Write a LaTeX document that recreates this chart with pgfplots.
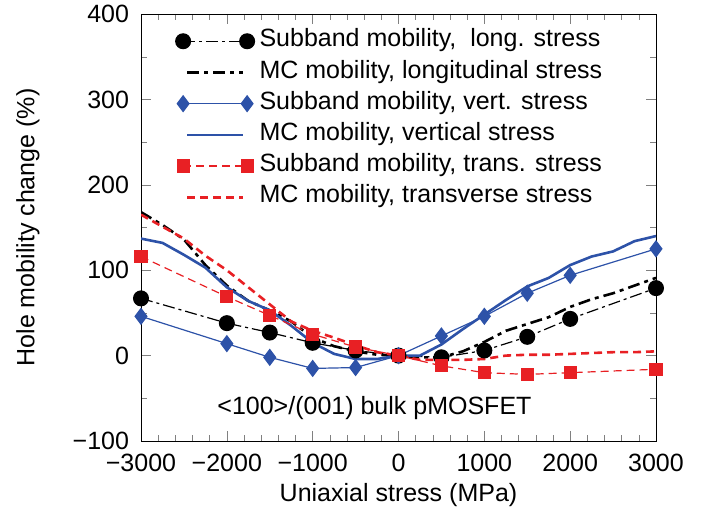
\documentclass[border=0pt]{standalone}
\usepackage{fontspec}
\setmainfont{Liberation Sans}
\usepackage{pgfplots}
\pgfplotsset{compat=1.18}
\definecolor{myblue}{RGB}{45,82,168}
\definecolor{myred}{RGB}{232,32,36}
\pgfplotsset{
 markleg/.style={legend image code/.code={\draw[mark repeat=2,mark phase=1,##1] plot coordinates {(0pt,0pt) (16pt,0pt) (32pt,0pt)};}},
 lineleg/.style={legend image code/.code={\draw[##1] (2pt,0pt) -- (30pt,0pt);}},
}
\begin{document}
\begin{tikzpicture}
\begin{axis}[
 scale only axis, width=257.5pt, height=213.5pt,
 xmin=-3000, xmax=3000, ymin=-100, ymax=400,
 xtick={-3000,-2000,...,3000},
 xticklabels={−3000,−2000,−1000,0,1000,2000,3000},
 ytick={-100,0,...,400},
 yticklabels={−100,0,100,200,300,400},
 minor x tick num=4, minor y tick num=1,
 tick align=inside,
 major tick length=5pt, minor tick length=3pt,
 font=\fontsize{12.5}{15}\selectfont,
 tick label style={font=\fontsize{12.5}{15}\selectfont, inner sep=0pt},
 yticklabel style={xshift=-5.8pt},
 xticklabel style={yshift=-6.2pt},
 xlabel={Uniaxial stress (MPa)},
 ylabel={Hole mobility change (\%)},
 every axis x label/.style={at={(axis description cs:0.5,0)}, yshift=-27pt, anchor=center},
 every axis y label/.style={at={(axis description cs:0,0.5)}, xshift=-56.5pt, rotate=90, anchor=center},
 legend cell align=left,
 legend style={draw=none, fill=none, at={(rel axis cs:0.055,0.983)}, anchor=north west,
   font=\fontsize{12.5}{15}\selectfont, row sep=0pt,
   nodes={text height=8.6pt, text depth=3pt, inner xsep=2.5pt}},
]
% Subband long
\addplot[black, line width=0.6pt, dash pattern=on 6pt off 2pt on 1.5pt off 2pt,
  mark=*, mark size=3.7pt, mark options={solid}, markleg] coordinates {
 (-3000,67) (-2000,38) (-1500,27) (-1000,15) (-500,6) (0,0) (500,-2) (1000,6) (1500,22) (2000,43) (3000,79)};
\addlegendentry{Subband mobility,\ \ long. stress}
% MC long
\addplot[black, line width=1.3pt, dash pattern=on 6pt off 2.5pt on 2pt off 2.5pt, lineleg] coordinates {
 (-3000,168) (-2750,153) (-2500,136) (-2250,106) (-2000,82) (-1750,64) (-1500,53) (-1250,40) (-1000,21) (-750,11) (-500,5) (-250,1) (0,0)
 (250,-2) (500,-2) (750,5) (1000,16) (1250,29) (1500,37) (1750,45) (2000,57) (2250,66) (2500,73) (2750,82) (3000,91)};
\addlegendentry{MC mobility, longitudinal stress}
% Subband vert
\addplot[myblue, line width=0.6pt, mark=diamond*, mark size=3.9pt, markleg] coordinates {
 (-3000,46) (-2000,14) (-1500,-2) (-1000,-15) (-500,-14) (0,0) (500,23) (1000,46) (1500,73) (2000,94) (3000,125)};
\addlegendentry{Subband mobility, vert. stress}
% MC vert
\addplot[myblue, line width=1.3pt, lineleg] coordinates {
 (-3000,137) (-2750,132) (-2500,118) (-2250,103) (-2000,80) (-1750,64) (-1500,53) (-1250,35) (-1000,15) (-750,2) (-500,-4) (-250,-4) (0,0)
 (250,0) (500,13) (750,31) (1000,48) (1250,65) (1500,81) (1750,91) (2000,106) (2250,116) (2500,122) (2750,134) (3000,140)};
\addlegendentry{MC mobility, vertical stress}
% Subband trans
\addplot[myred, line width=0.6pt, dash pattern=on 4pt off 2.5pt, mark=square*, mark size=3pt, mark options={solid}, markleg] coordinates {
 (-3000,116) (-2000,69) (-1500,47) (-1000,25) (-500,10) (0,0) (500,-12) (1000,-20) (1500,-22) (2000,-20) (3000,-16)};
\addlegendentry{Subband mobility, trans. stress}
% MC trans
\addplot[myred, line width=1.3pt, dash pattern=on 4pt off 2.5pt, lineleg] coordinates {
 (-3000,165) (-2750,151) (-2500,137) (-2250,117) (-2000,100) (-1750,80) (-1500,60) (-1250,40) (-1000,29) (-750,21) (-500,12) (-250,4) (0,0)
 (250,-5) (500,-5) (750,-5) (1000,-4) (1250,0) (1500,1) (1750,1) (2000,2) (2250,3) (2500,4) (2750,4) (3000,5)};
\addlegendentry{MC mobility, transverse stress}
\node[anchor=base, font=\fontsize{12.5}{15}\selectfont] at (axis cs:-280,-69) {<100>/(001) bulk pMOSFET};
\end{axis}
\path ([xshift=-70.5pt,yshift=-38pt]current axis.south west) rectangle ([xshift=28pt,yshift=7pt]current axis.north east);
\end{tikzpicture}
\end{document}
